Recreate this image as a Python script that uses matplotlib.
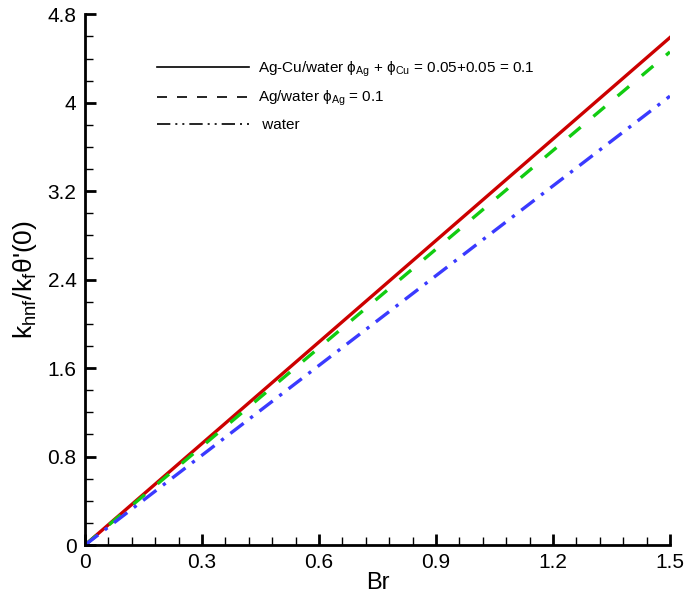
import matplotlib
matplotlib.use('Agg')
import matplotlib.pyplot as plt
from matplotlib.lines import Line2D
from matplotlib.ticker import MultipleLocator

plt.rcParams['font.family'] = ['Liberation Sans', 'DejaVu Sans']
plt.rcParams['mathtext.fontset'] = 'custom'
plt.rcParams['mathtext.rm'] = 'Liberation Sans'
plt.rcParams['mathtext.it'] = 'Liberation Sans'

br = [0.0, 1.5]
hybrid = [0.0, 4.59]
ag_water = [0.0, 4.46]
water = [0.0, 4.06]

labels = [r'Ag-Cu/water $\mathrm{\phi_{Ag}}$ + $\mathrm{\phi_{Cu}}$ = 0.05+0.05 = 0.1',
          r'Ag/water $\mathrm{\phi_{Ag}}$ = 0.1',
          ' water']

fig = plt.figure(figsize=(6.85, 5.97), dpi=100)
ax = fig.add_axes([0.124, 0.087, 0.854, 0.889])

ax.plot(br, hybrid, color='#cc0000', lw=2.4, ls='-')
ax.plot(br, ag_water, color='#11cc11', lw=2.4, ls=(0, (4.5, 5)))
ax.plot(br, water, color='#3a3aff', lw=2.4, ls=(0, (5, 2.5, 1, 2.5)))

ax.set_xlim(0, 1.5)
ax.set_ylim(0, 4.8)
ax.xaxis.set_major_locator(MultipleLocator(0.3))
ax.xaxis.set_minor_locator(MultipleLocator(0.06))
ax.yaxis.set_major_locator(MultipleLocator(0.8))
ax.yaxis.set_minor_locator(MultipleLocator(0.2))
ax.set_xticks([0, 0.3, 0.6, 0.9, 1.2, 1.5], ['0', '0.3', '0.6', '0.9', '1.2', '1.5'])
ax.set_yticks([0, 0.8, 1.6, 2.4, 3.2, 4, 4.8], ['0', '0.8', '1.6', '2.4', '3.2', '4', '4.8'])
ax.tick_params(which='major', direction='in', length=8, width=2, labelsize=15, pad=6)
ax.tick_params(which='minor', direction='in', length=6, width=1)
for s in ['top', 'right']:
    ax.spines[s].set_visible(False)
for s in ['left', 'bottom']:
    ax.spines[s].set_linewidth(2)

ax.set_xlabel('Br', fontsize=17, labelpad=0)
ax.set_ylabel(r"k$_{\mathrm{hnf}}$/k$_{\mathrm{f}}\theta$'(0)", fontsize=19, labelpad=6)

handles = [Line2D([], [], color='k', lw=1.2, ls='-'),
           Line2D([], [], color='k', lw=1.2, ls=(0, (6, 6))),
           Line2D([], [], color='k', lw=1.2, ls=(0, (8, 3, 1.2, 3, 1.2, 3)))]
ax.legend(handles, labels, loc='upper left', bbox_to_anchor=(0.1, 0.94), frameon=False,
          fontsize=11, handlelength=6, handletextpad=0.6, labelspacing=0.65)

fig.savefig('out.png', dpi=100)
